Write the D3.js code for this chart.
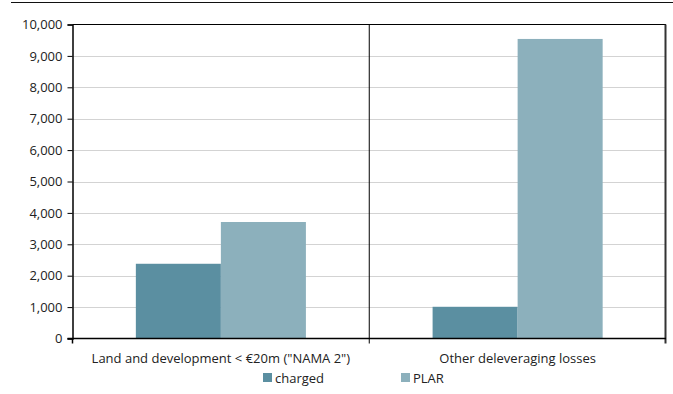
<!DOCTYPE html>
<html>
<head>
<meta charset="utf-8">
<script src="https://cdn.jsdelivr.net/npm/d3@7"></script>
<style>
  html, body { margin: 0; padding: 0; background: #fff; }
  svg { display: block; font-family: "Open Sans", "Noto Sans", sans-serif; }
</style>
</head>
<body>
<svg id="chart" width="673" height="394"></svg>
<script>
// Categories, series and axis ticks
const categories = ["Land and development < €20m (\"NAMA 2\")", "Other deleveraging losses"];
const seriesNames = ["charged", "PLAR"];
const charged = [2380, 1010];
const plar = [3710, 9540];
const yTicks = [0, 1000, 2000, 3000, 4000, 5000, 6000, 7000, 8000, 9000, 10000];
const colors = ["#5b8fa1", "#8cb0bc"];

const svg = d3.select("#chart");
const margin = { left: 72.5, right: 7, top: 24.5, bottom: 55.5 };
const W = 673, H = 394;
const x0 = margin.left, x1 = W - margin.right;
const yTop = margin.top, yBot = H - margin.bottom;
const fontSize = 13;

const x = d3.scaleBand().domain(categories).range([x0, x1]).paddingInner(0).paddingOuter(0);
const inner = d3.scaleBand().domain(seriesNames).range([0, x.bandwidth()]).paddingOuter(0.745).paddingInner(0);
const y = d3.scaleLinear().domain([0, 10000]).range([yBot, yTop]);

// rule across the top of the figure
svg.append("line").attr("x1", 11).attr("x2", W).attr("y1", 2.5).attr("y2", 2.5)
  .attr("stroke", "#111").attr("stroke-width", 1.2);

// horizontal gridlines
svg.append("g").selectAll("line").data(yTicks.filter(t => t > 0 && t < 10000)).join("line")
  .attr("x1", x0).attr("x2", x1)
  .attr("y1", d => Math.round(y(d)) + 0.5).attr("y2", d => Math.round(y(d)) + 0.5)
  .attr("stroke", "#d3d3d3").attr("stroke-width", 1);

// bars
const rows = categories.map((c, i) => ({ cat: c, vals: [charged[i], plar[i]] }));
const groups = svg.append("g").selectAll("g").data(rows).join("g")
  .attr("transform", d => `translate(${x(d.cat)},0)`);
groups.selectAll("rect").data(d => d.vals.map((v, j) => ({ name: seriesNames[j], v, j }))).join("rect")
  .attr("x", d => inner(d.name))
  .attr("width", inner.bandwidth())
  .attr("y", d => y(d.v))
  .attr("height", d => yBot - y(d.v))
  .attr("fill", d => colors[d.j]);

// plot frame: top edge, category divider, right edge
svg.append("line").attr("x1", x0).attr("x2", x1).attr("y1", yTop).attr("y2", yTop)
  .attr("stroke", "#000").attr("stroke-width", 1.2);
svg.append("line").attr("x1", x(categories[1])).attr("x2", x(categories[1]))
  .attr("y1", yTop).attr("y2", yBot + 5).attr("stroke", "#000").attr("stroke-width", 1);
svg.append("line").attr("x1", x1 - 0.5).attr("x2", x1 - 0.5).attr("y1", yTop).attr("y2", yBot + 5)
  .attr("stroke", "#333").attr("stroke-width", 2);

// y axis
const yAxis = d3.axisLeft(y).tickValues(yTicks).tickFormat(d3.format(",")).tickSize(5).tickPadding(5);
const gy = svg.append("g").attr("transform", `translate(${x0},0)`).call(yAxis);
gy.select(".domain").attr("stroke", "#000").attr("stroke-width", 1.5);
gy.selectAll(".tick line").attr("stroke", "#000");
gy.selectAll("text").attr("font-size", fontSize).attr("fill", "#222")
  .attr("font-family", "'Open Sans', sans-serif");

// x axis baseline
svg.append("line").attr("x1", x0 - 5).attr("x2", x1).attr("y1", yBot).attr("y2", yBot)
  .attr("stroke", "#000").attr("stroke-width", 1.5);
svg.append("line").attr("x1", x0).attr("x2", x0).attr("y1", yBot).attr("y2", yBot + 5)
  .attr("stroke", "#000").attr("stroke-width", 1.5);

// category labels
svg.append("g").selectAll("text").data(categories).join("text")
  .attr("x", d => x(d) + x.bandwidth() / 2)
  .attr("y", 363)
  .attr("text-anchor", "middle")
  .attr("font-size", fontSize).attr("fill", "#222")
  .text(d => d);

// legend
const legendX = [263, 401];
const lg = svg.append("g").selectAll("g").data(seriesNames).join("g")
  .attr("transform", (d, i) => `translate(${legendX[i]},373)`);
lg.append("rect").attr("width", 9).attr("height", 9).attr("fill", (d, i) => colors[i]);
lg.append("text").attr("x", 12).attr("y", 9.5).attr("font-size", fontSize).attr("fill", "#222").text(d => d);
</script>
</body>
</html>
